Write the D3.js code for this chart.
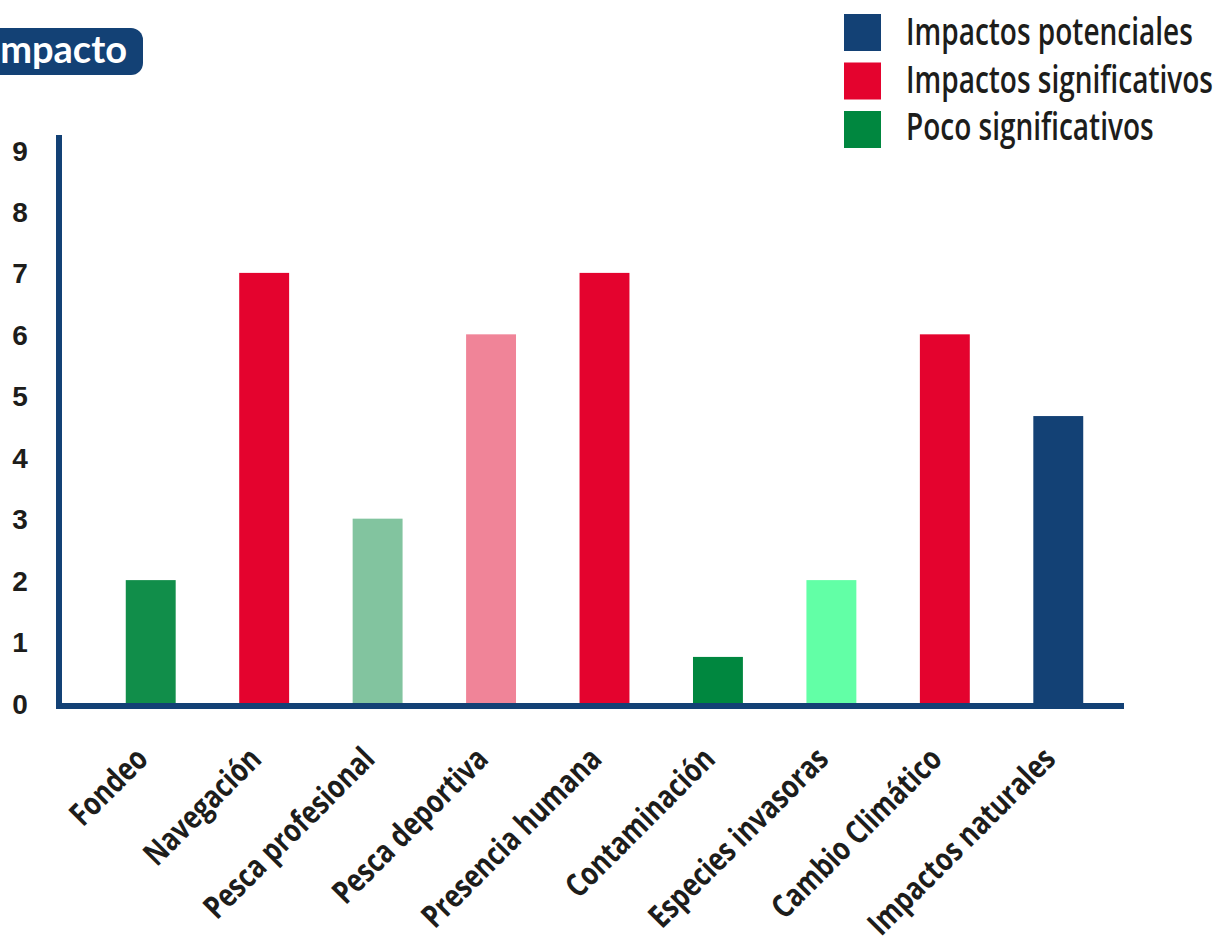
<!DOCTYPE html>
<html>
<head>
<meta charset="utf-8">
<script src="https://cdn.jsdelivr.net/npm/d3@7"></script>
<style>
  html, body { margin: 0; padding: 0; background: #ffffff; }
  svg { display: block; }
</style>
</head>
<body>
<svg id="chart" width="1232" height="943"></svg>
<script>
// ---- data ----
const categories = ["Fondeo", "Navegación", "Pesca profesional", "Pesca deportiva", "Presencia humana", "Contaminación", "Especies invasoras", "Cambio Climático", "Impactos naturales"];
const values = [2, 7, 3, 6, 7, 0.75, 2, 6, 4.67];
const barColors = ["#118E4A", "#E4032E", "#82C49F", "#F08498", "#E4032E", "#00873F", "#62FFA6", "#E4032E", "#134175"];
const yTicks = [0, 1, 2, 3, 4, 5, 6, 7, 8, 9];
const legendLabels = ["Impactos potenciales", "Impactos significativos", "Poco significativos"];
const legendColors = ["#134175", "#E4032E", "#00873F"];
const titleText = "Impacto";

const navy = "#134175";
const textColor = "#1d1d1b";
const condFont = "'Open Sans', 'Noto Sans', sans-serif";
const svg = d3.select("#chart");

const x = d3.scaleBand().domain(categories).range([94, 1115]).paddingInner(0.56).paddingOuter(0.28);
const y = d3.scaleLinear().domain([0, 9]).range([703, 150]);

// helper: horizontal condensing factor so a reference string reaches a given width
function condenseFactor(sample, size, weight, target) {
  const t = svg.append("text").attr("font-family", condFont).attr("font-weight", weight)
    .attr("font-size", size).text(sample);
  const w = t.node().getComputedTextLength();
  t.remove();
  return target / w;
}

// title badge (clipped at left edge)
svg.append("rect").attr("x", -40).attr("y", 28).attr("width", 183).attr("height", 47)
  .attr("rx", 12).attr("fill", navy);
svg.append("text").attr("x", 127).attr("y", 63).attr("text-anchor", "end")
  .attr("font-family", "Lato, 'Open Sans', sans-serif").attr("font-weight", 700)
  .attr("font-size", 38).attr("fill", "#ffffff").text(titleText);

// bars
svg.append("g").selectAll("rect").data(categories).join("rect")
  .attr("x", d => x(d))
  .attr("width", x.bandwidth())
  .attr("y", (d, i) => y(values[i]))
  .attr("height", (d, i) => y(0) - y(values[i]))
  .attr("fill", (d, i) => barColors[i]);

// y axis tick labels
const yAxis = d3.axisLeft(y).tickValues(yTicks).tickSize(0).tickPadding(0).tickFormat(d3.format("d"));
const gy = svg.append("g").attr("transform", "translate(31,0)").call(yAxis);
gy.select(".domain").remove();
gy.selectAll("text").attr("font-family", "'Liberation Sans', Arial, sans-serif")
  .attr("font-weight", 700).attr("font-size", 28).attr("fill", textColor)
  .attr("text-anchor", "middle").attr("x", -11).attr("dy", "0.36em");

// axis lines
svg.append("path")
  .attr("d", d3.line()([[59, 135], [59, 706], [1124, 706]]))
  .attr("fill", "none").attr("stroke", navy).attr("stroke-width", 6);

// x labels
const xf = condenseFactor("Pesca profesional", 32, 700, 226);
const xAxis = d3.axisBottom(x).tickSize(0).tickPadding(0);
const gx = svg.append("g").attr("transform", "translate(0,706)").call(xAxis);
gx.select(".domain").remove();
gx.selectAll("text")
  .attr("font-family", condFont)
  .attr("font-weight", 700).attr("font-size", 32).attr("fill", textColor)
  .attr("text-anchor", "end").attr("dy", 0).attr("y", 0)
  .attr("transform", `translate(-1,55) rotate(-45) scale(${xf},1)`);

// legend
const lf = condenseFactor("Impactos significativos", 37, 600, 307);
const lg = svg.append("g");
legendLabels.forEach((lab, i) => {
  lg.append("rect").attr("x", 844).attr("y", 14 + i * 48.5).attr("width", 37).attr("height", 37).attr("fill", legendColors[i]);
  lg.append("text").attr("transform", `translate(906,${45 + i * 47.5}) scale(${lf},1)`)
    .attr("font-family", condFont)
    .attr("font-weight", 600).attr("font-size", 37).attr("fill", textColor).text(lab);
});
</script>
</body>
</html>
